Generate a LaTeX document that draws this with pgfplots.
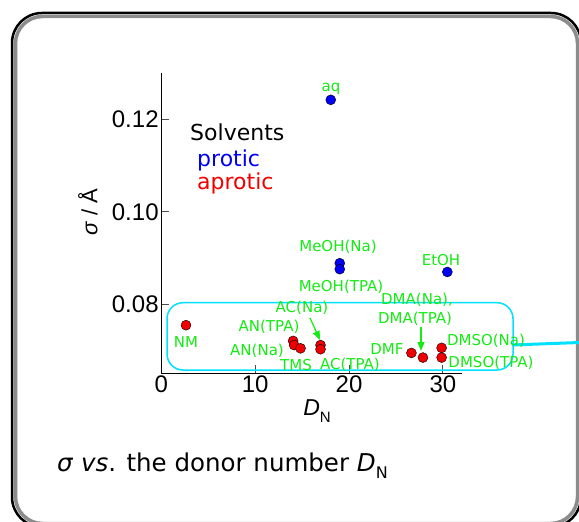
\documentclass[border=0pt]{standalone}
\usepackage{fontspec}
\setmainfont{Liberation Sans}
\newfontfamily\dv{DejaVu Sans}
\usepackage{pgfplots}
\pgfplotsset{compat=1.18}
\usetikzlibrary{arrows.meta}
\definecolor{lblgreen}{RGB}{20,235,20}
\definecolor{cyanbox}{RGB}{0,225,255}
\definecolor{protic}{RGB}{0,0,245}
\definecolor{aprotic}{RGB}{240,0,0}
\definecolor{framegray}{RGB}{140,140,140}

\begin{document}
\begin{tikzpicture}[x=1bp,y=-1bp]
\path[use as bounding box] (0,0) rectangle (579,522);
\draw[framegray, line width=3.5bp, rounded corners=27bp] (15.5,16.5) rectangle (577.5,523.5);
\draw[black, line width=2.5bp, rounded corners=30bp] (12,13) rectangle (581,527);

\begin{axis}[at={(161.3bp,-373.3bp)}, anchor=south west, scale only axis,
  width=300.4bp, height=300.3bp,
  xmin=0, xmax=32, ymin=0.0651, ymax=0.1300,
  axis x line*=bottom, axis y line*=left,
  axis line style={black, line width=1bp, -},
  tick align=inside, major tick length=8bp,
  tick style={black!70, line width=0.9bp},
  xtick={0,10,20,30}, ytick={0.08,0.10,0.12},
  yticklabel style={/pgf/number format/.cd,fixed,fixed zerofill,precision=2},
  ticklabel style={font=\fontsize{24bp}{24bp}\selectfont, inner sep=2.5bp},
  /pgf/number format/assume math mode=true,
  clip=false,
]
\addplot[only marks, mark=*, mark size=5bp, mark options={draw=none, fill=protic}]
  coordinates {(18.05,0.1242) (19.01,0.0889) (19.01,0.0876) (30.47,0.0870)};
\addplot[only marks, mark=*, mark size=5bp, mark options={draw=none, fill=aprotic}]
  coordinates {(2.63,0.0755) (14.04,0.0721) (14.15,0.0712) (14.83,0.0705)
               (16.96,0.0712) (16.96,0.0703) (26.64,0.0695) (27.87,0.0685)
               (29.86,0.0706) (29.86,0.0685)};
\end{axis}

% cyan highlight
\draw[cyanbox, line width=1.5bp, rounded corners=16bp] (167,302.7) rectangle (513,370);
\draw[cyanbox, line width=3bp] (512,345) -- (585,342.3);

% axis titles
\node[font=\fontsize{22bp}{22bp}\selectfont, rotate=90] at (88,212) {\textit{σ} / Å};
\node[font=\fontsize{23bp}{23bp}\selectfont] at (317,411) {\textit{D}\raisebox{-0.3em}{\fontsize{15bp}{15bp}\selectfont N}};

% legend text
\begin{scope}[every node/.style={anchor=base west, inner sep=0pt, font=\dv\fontsize{22bp}{22bp}\selectfont}]
\node at (190,141) {Solvents};
\node[text=protic] at (197,167) {protic};
\node[text=aprotic] at (197,190) {aprotic};
\end{scope}

% point labels
\begin{scope}[every node/.style={font=\dv\fontsize{15bp}{15bp}\selectfont, text=lblgreen, inner sep=0pt}]
\node at (331,89) {aq};
\node at (338,247) {MeOH(Na)};
\node at (341,287) {MeOH(TPA)};
\node at (441,260) {EtOH};
\node at (302,308) {AC(Na)};
\node at (269,327) {AN(TPA)};
\node at (257,351) {AN(Na)};
\node at (186,342) {NM};
\node at (296,365) {TMS};
\node at (350,365) {AC(TPA)};
\node at (417,300) {DMA(Na),};
\node at (415,319) {DMA(TPA)};
\node at (387,349) {DMF};
\node at (486,341) {DMSO(Na)};
\node at (491,363) {DMSO(TPA)};
\end{scope}
\draw[lblgreen, line width=1.2bp, -{Triangle[length=9bp,width=7bp]}] (310,318) -- (320,340);
\draw[lblgreen, line width=1.2bp, -{Triangle[length=9bp,width=7bp]}] (421,327) -- (421,351);

% caption
\node[anchor=base west, inner sep=0pt, font=\dv\fontsize{24.5bp}{24.5bp}\selectfont] at (57,471)
  {\textit{σ} \textit{vs}. the donor number \textit{D}\raisebox{-0.3em}{\fontsize{16bp}{16bp}\selectfont N}};
\end{tikzpicture}
\end{document}
